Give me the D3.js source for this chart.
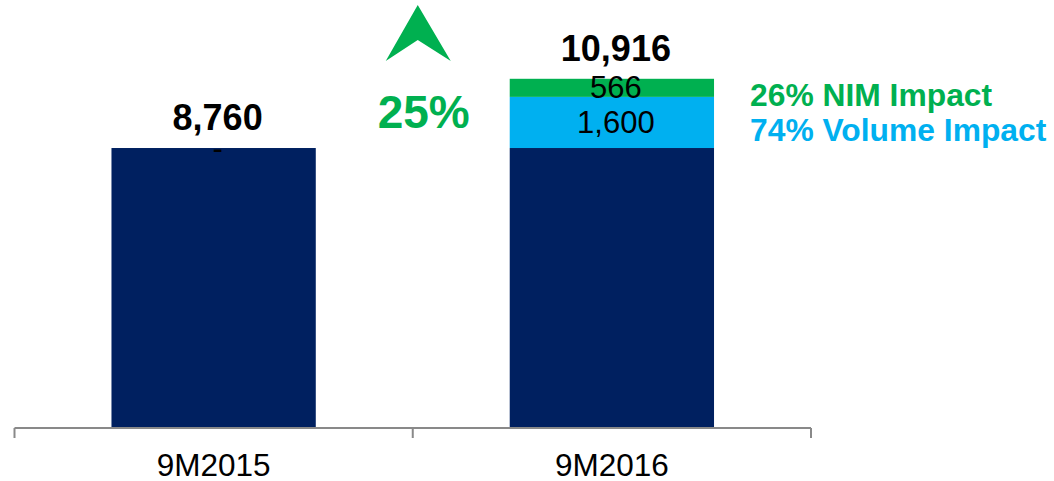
<!DOCTYPE html>
<html>
<head>
<meta charset="utf-8">
<script src="https://cdn.jsdelivr.net/npm/d3@7"></script>
<style>
    html, body { margin: 0; padding: 0; background: #fff; }
    svg { display: block; font-family: "Liberation Sans", Arial, sans-serif; }
</style>
</head>
<body>
<svg id="chart" width="1054" height="481"></svg>
<script>
"use strict";

var categories = ["9M2015", "9M2016"];
var baseValues = [8760, 8760];
var volumeValues = [0, 1600];
var nimValues = [0, 566];
var totalLabels = ["8,760", "10,916"];
var volumeLabels = ["-", "1,600"];
var nimLabels = ["", "566"];
var growthLabel = "25%";
var nimLegend = "26% NIM Impact";
var volumeLegend = "74% Volume Impact";

var colors = {
    base: "#002060",
    volume: "#00B0F0",
    nim: "#00B050",
    axis: "#898989"
};

var svg = d3.select("#chart");

var left = 14.5, right = 811, bottom = 428;

// bars sit in the middle half of each band, axis ticks mark band edges
var x = d3.scaleBand().domain(categories).range([left, right])
    .paddingInner(0.487).paddingOuter(0.2435);
var xEdge = d3.scaleBand().domain(categories).range([left, right]).padding(0);
var y = d3.scaleLinear().domain([0, 13000]).range([bottom, 12.5]);

var rows = categories.map(function (c, i) {
    var segs = [];
    var acc = 0;
    [["base", baseValues[i], ""],
     ["volume", volumeValues[i], volumeLabels[i]],
     ["nim", nimValues[i], nimLabels[i]]].forEach(function (s) {
        segs.push({ key: s[0], y0: acc, y1: acc + s[1], label: s[2] });
        acc += s[1];
    });
    return { cat: c, segs: segs, total: acc, totalLabel: totalLabels[i] };
});

var bw = x.bandwidth();
var dx = 4;

var barG = svg.append("g").attr("class", "bars");
rows.forEach(function (r) {
    var g = barG.append("g");
    g.selectAll("rect").data(r.segs.filter(function (s) { return s.y1 > s.y0; }))
        .enter().append("rect")
        .attr("x", x(r.cat))
        .attr("width", bw)
        .attr("y", function (s) { return y(s.y1); })
        .attr("height", function (s) { return y(s.y0) - y(s.y1); })
        .attr("fill", function (s) { return colors[s.key]; });

    // segment labels
    g.selectAll("text.seg").data(r.segs.filter(function (s) { return s.label; }))
        .enter().append("text")
        .attr("class", "seg")
        .attr("x", x(r.cat) + bw / 2 + dx)
        .attr("y", function (s) { return (y(s.y0) + y(s.y1)) / 2; })
        .attr("text-anchor", "middle")
        .attr("dominant-baseline", "central")
        .style("font-size", "31px")
        .style("fill", "#000")
        .text(function (s) { return s.label; });

    g.append("text")
        .attr("x", x(r.cat) + bw / 2 + dx)
        .attr("y", y(r.total) - 18)
        .attr("text-anchor", "middle")
        .style("font-size", "36px")
        .style("font-weight", "bold")
        .style("fill", "#000")
        .text(r.totalLabel);
});

// axis with ticks at band edges
var axisG = svg.append("g").attr("class", "axis");
axisG.append("line")
    .attr("x1", left).attr("x2", right)
    .attr("y1", bottom).attr("y2", bottom)
    .attr("stroke", colors.axis).attr("stroke-width", 2);
var edges = categories.map(function (c) { return xEdge(c); }).concat([right]);
axisG.selectAll("line.tick").data(edges).enter().append("line")
    .attr("class", "tick")
    .attr("x1", function (d) { return d; }).attr("x2", function (d) { return d; })
    .attr("y1", bottom).attr("y2", bottom + 10)
    .attr("stroke", colors.axis).attr("stroke-width", 2);
axisG.selectAll("text").data(categories).enter().append("text")
    .attr("x", function (c) { return x(c) + bw / 2; })
    .attr("y", bottom + 48)
    .attr("text-anchor", "middle")
    .style("font-size", "31.5px")
    .style("fill", "#000")
    .text(function (c) { return c; });

// growth arrow + percentage between the bars
var last = rows[rows.length - 1];
var gapX = (x(categories[0]) + bw + x(categories[1])) / 2 + 5;
var arrow = svg.append("g").attr("transform", "translate(" + gapX + ",5)");
arrow.append("path")
    .attr("d", "M0,0 L33,56 L0,35 L-32,56 Z")
    .attr("fill", colors.nim);
svg.append("text")
    .attr("x", gapX + 6)
    .attr("y", y(baseValues[0]) - 20)
    .attr("text-anchor", "middle")
    .style("font-size", "46px")
    .style("font-weight", "bold")
    .style("fill", colors.nim)
    .text(growthLabel);

// side legend next to the stacked segments
var legendX = x(last.cat) + bw + 36;
var nimSeg = last.segs[2], volSeg = last.segs[1];
svg.append("text")
    .attr("x", legendX)
    .attr("y", (y(nimSeg.y0) + y(nimSeg.y1)) / 2 + 18)
    .style("font-size", "31.8px")
    .style("font-weight", "bold")
    .style("fill", colors.nim)
    .text(nimLegend);
svg.append("text")
    .attr("x", legendX)
    .attr("y", (y(volSeg.y0) + y(volSeg.y1)) / 2 + 18.5)
    .style("font-size", "31.8px")
    .style("font-weight", "bold")
    .style("fill", colors.volume)
    .text(volumeLegend);
</script>
</body>
</html>
